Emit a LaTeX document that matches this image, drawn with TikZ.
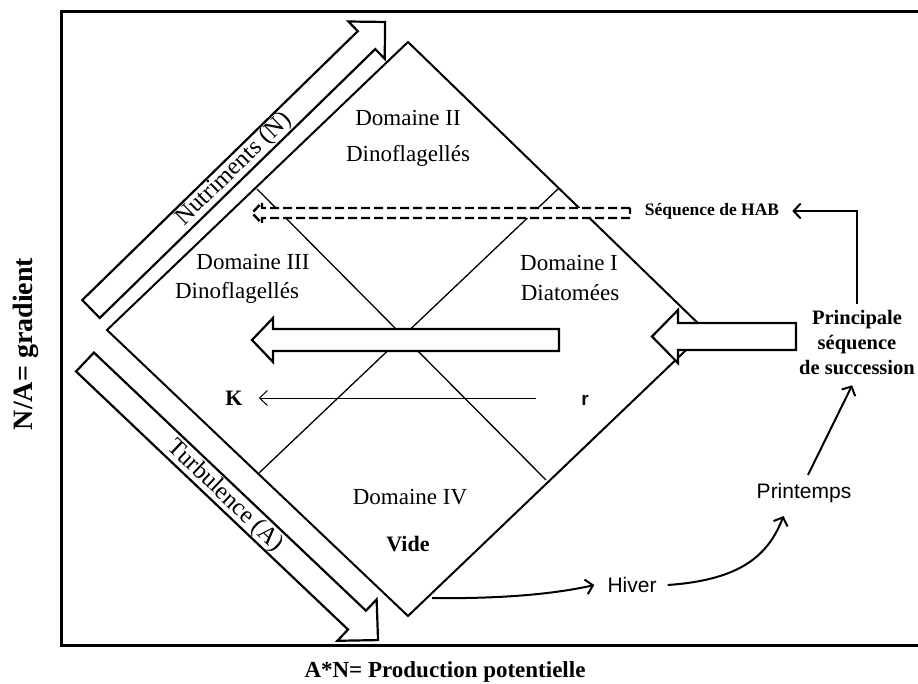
\documentclass[tikz,border=0pt]{standalone}
\usepackage{fontspec}
\setmainfont{Liberation Serif}
\setsansfont{Liberation Sans}
\usetikzlibrary{arrows.meta,calc}
\newcommand\myfs[1]{\fontsize{#1}{1.2\dimexpr#1pt\relax}\selectfont}
\begin{document}
\begin{tikzpicture}[x=1pt,y=-1pt,
  frame/.style={line width=3pt,line join=miter},
  edge/.style={line width=2pt,line join=miter},
  innerline/.style={line width=1.3pt},
  bigarrow/.style={draw,fill=white,line width=2.2pt,line join=miter},
  dasharrow/.style={draw,fill=white,line width=2.4pt,dash pattern=on 9pt off 4pt,line join=miter},
  lbl/.style={inner sep=0pt,font=\myfs{23}},
  bold/.style={inner sep=0pt,font=\myfs{22}\bfseries},
  sans/.style={inner sep=0pt,font=\sffamily\myfs{21}},
  curv/.style={line width=2pt,-{Straight Barb[length=7pt,width=15pt,line width=2pt]}},
  karrow/.style={line width=1pt,-{Straight Barb[length=8pt,width=15pt,line width=1pt]}}]
\useasboundingbox (0,0) rectangle (918,684);
% frame
\draw[frame] (920,11.5) -- (61,11.5) -- (61,645) -- (920,645);
% diamond
\coordinate (T) at (408,42);
\coordinate (L) at (107,330);
\coordinate (B) at (408,616);
\coordinate (R) at (706,331);
\draw[edge] (T) -- (R) -- (B) -- (L) -- cycle;
\coordinate (m1) at (257,189);
\coordinate (m2) at (546,480);
\coordinate (m3) at (559,188);
\coordinate (m4) at (259,473);
\draw[innerline] (m1) -- (m2);
\draw[innerline] (m3) -- (m4);
% Nutriments arrow
\begin{scope}[shift={(91,309)},rotate=44.3]
\draw[bigarrow] (0,-12.5) -- (385,-12.5) -- (385,-26) -- (411,0) -- (385,26) -- (385,12.5) -- (0,12.5) -- cycle;
\end{scope}
\node[lbl,font=\myfs{24.5},rotate=44.3] (nut) at (234,169.5) {Nutriments (N)};
% Turbulence arrow
\begin{scope}[shift={(85,362)},rotate=-43.5]
\draw[bigarrow] (0,-13) -- (375,-13) -- (375,-28.5) -- (404,0) -- (375,28.5) -- (375,13) -- (0,13) -- cycle;
\end{scope}
\node[lbl,font=\myfs{24.5},rotate=-43.5] (turb) at (225,496) {Turbulence (A)};
% HAB dashed arrow
\draw[dasharrow] (630,208) -- (262,208) -- (262,202.5) -- (252,213) -- (262,223.5) -- (262,218) -- (630,218) -- cycle;
% middle big arrow
\draw[bigarrow] (559,329) -- (273,329) -- (273,318) -- (252,340) -- (273,362) -- (273,351) -- (559,351) -- cycle;
% right big arrow
\draw[bigarrow] (796,323) -- (678,323) -- (678,310) -- (652,336.5) -- (678,363) -- (678,350) -- (796,350) -- cycle;
% domain labels
\node[lbl] (d2) at (408,118) {Domaine II};
\node[lbl] (d2b) at (408,156) {Dinoflagellés};
\node[lbl] (d3) at (253,262) {Domaine III};
\node[lbl] (d3b) at (237,293) {Dinoflagellés};
\node[lbl] (d1) at (569,263) {Domaine I};
\node[lbl] (d1b) at (570,293) {Diatomées};
\node[lbl] (d4) at (410,497) {Domaine IV};
\node[bold,anchor=base] (vide) at (408,551) {Vide};
% K and r
\node[bold,anchor=base] (K) at (234,405) {K};
\node[inner sep=0pt,font=\sffamily\bfseries\myfs{19},anchor=base] (r) at (585,405) {r};
\path (r.base west) ++(-45,-7) coordinate (ks);
\path (K.base east) ++(16,-7) coordinate (ke);
\draw[karrow] (ks) -- (ke);
% right side texts
\node[inner sep=0pt,font=\myfs{17.5}\bfseries] (hab) at (712,211) {Séquence de HAB};
\node[inner sep=0pt,font=\fontsize{20.5}{25}\selectfont\bfseries,align=center] (princ) at (857,343) {Principale\\séquence\\de succession};
\node[sans] (hiver) at (632,585) {Hiver};
\node[sans] (print) at (804,493) {Printemps};
% connectors
\draw[curv] (B) ++(24,-18) .. controls (500,599) and (555,594) .. ([xshift=-13pt]hiver.west);
\draw[curv] ([xshift=11pt]hiver.east) .. controls (740,580) and (768,556) .. ($(print.south west)+(27,13)$);
\draw[curv,shorten <=9pt,shorten >=11pt] (print.north) -- (princ.south);
\draw[curv,shorten <=7pt,shorten >=13pt] (princ.north) |- (hab.east);
% axis labels
\node[inner sep=0pt,font=\myfs{23}\bfseries] (xlab) at (445,672) {A*N= Production potentielle};
\node[inner sep=0pt,font=\myfs{28}\bfseries,rotate=90] (ylab) at (26,344) {N/A= gradient};
\end{tikzpicture}
\end{document}
